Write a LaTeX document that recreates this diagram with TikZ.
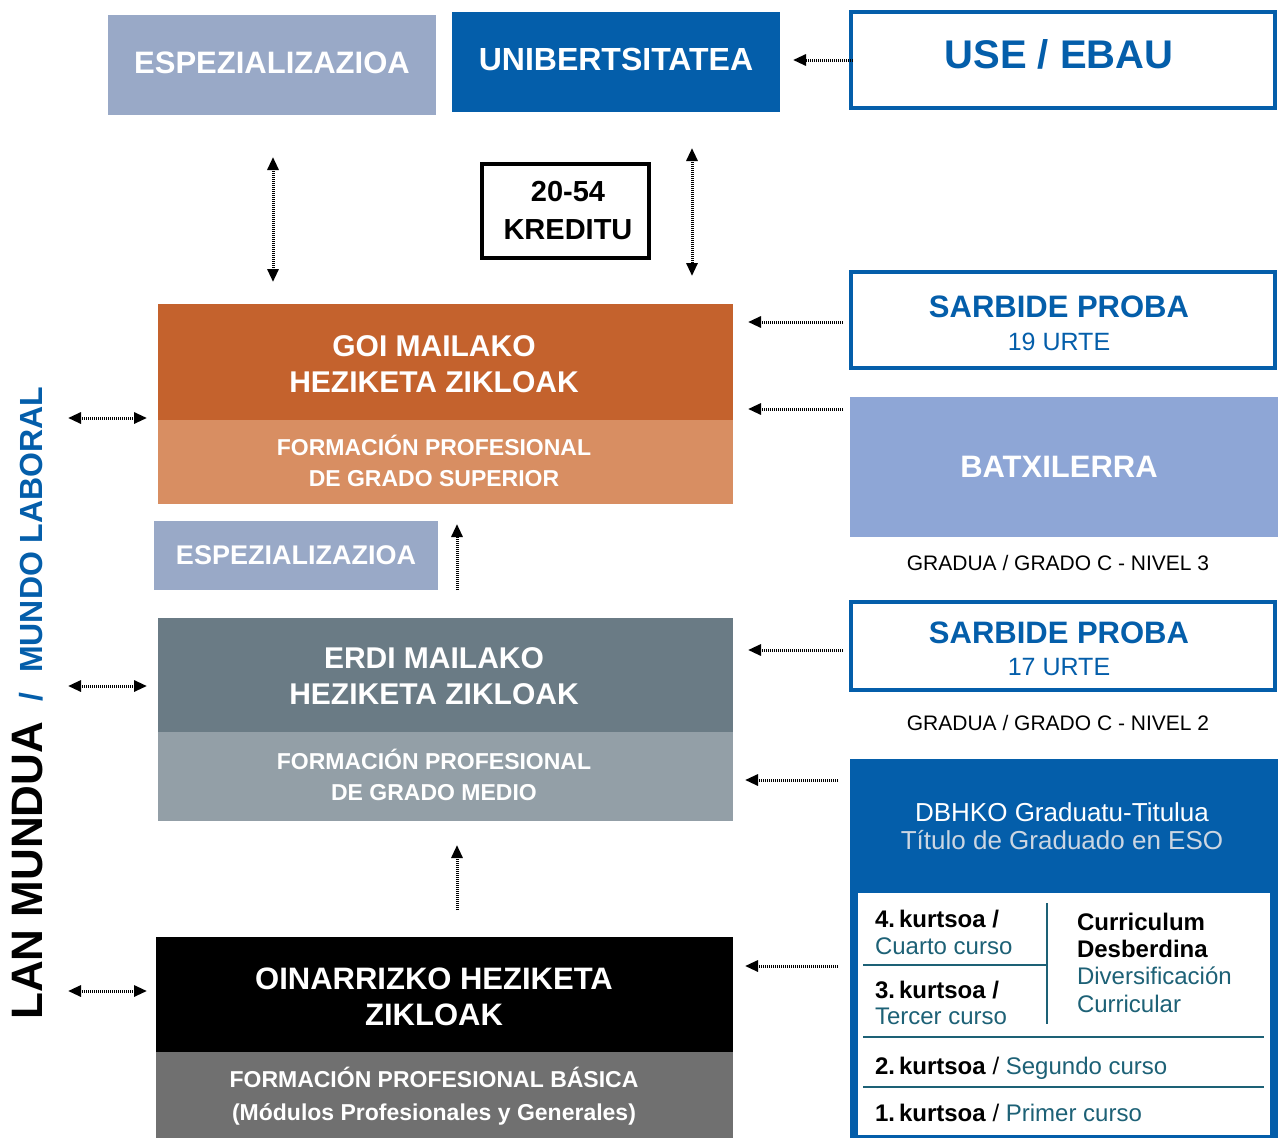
\documentclass[tikz,border=0pt]{standalone}
\usepackage{fontspec}
\setmainfont{Liberation Sans}
\usetikzlibrary{arrows.meta}
\definecolor{slate}{HTML}{99A9C7}
\definecolor{bblue}{HTML}{045EAA}
\definecolor{orng}{HTML}{C4622D}
\definecolor{lorng}{HTML}{D88E62}
\definecolor{peri}{HTML}{8EA6D6}
\definecolor{dgray}{HTML}{6A7B85}
\definecolor{lgray}{HTML}{939FA7}
\definecolor{mgray}{HTML}{707070}
\definecolor{teal}{HTML}{1D6176}
\definecolor{paleb}{HTML}{CCD6E2}
\newcommand\fsz[2]{\fontsize{#1}{#2}\selectfont}
\begin{document}
\begin{tikzpicture}[x=1pt,y=-1pt,
  blk/.style={inner sep=0, outer sep=0, draw=none},
  obox/.style={draw=bblue, line width=4pt, fill=white, inner sep=0, outer sep=0},
  cl/.style={inner sep=0, outer sep=0, align=center, text depth=0pt, text height=#1},
  tt/.style={inner sep=0, outer sep=0, anchor=base west, font=\fsz{24}{28}},
  tline/.style={draw=teal, line width=1.6pt},
  arr/.style={line width=3pt, draw=black, dash pattern=on 1pt off 1pt, -{Triangle[length=13pt,width=11pt]}},
  darr/.style={line width=3pt, draw=black, dash pattern=on 1pt off 1pt, {Triangle[length=13pt,width=11pt]}-{Triangle[length=13pt,width=11pt]}}]
\useasboundingbox (0,0) rectangle (1278,1138);

% top row
\node[blk, fill=slate, minimum width=328pt, minimum height=100pt] (esp1) at (272,65) {};
\node[cl=22.2pt, text=white, font=\fsz{31}{36}\bfseries] (esp1t) at (272,62) {ESPEZIALIZAZIOA};
\node[blk, fill=bblue, minimum width=328pt, minimum height=100pt] (uni) at (616,62) {};
\node[cl=22.9pt, text=white, font=\fsz{32}{38}\bfseries] (unit) at (616,59) {UNIBERTSITATEA};
\node[obox, minimum width=424pt, minimum height=96pt] (use) at (1063,60) {};
\node[cl=28.6pt, text=bblue, font=\fsz{40}{46}\bfseries] (uset) at (1059,54) {USE / EBAU};

\node[draw=black, line width=4pt, inner sep=0, outer sep=0, minimum width=167pt, minimum height=94pt] (kred) at (565.5,211) {};
\node[cl=58.8pt, font=\fsz{29}{38}\bfseries] (kredt) at (568,210) {20-54\\KREDITU};

% goi mailako
\node[blk, fill=orng, minimum width=575pt, minimum height=116pt] (goitop) at (445.5,362) {};
\node[blk, fill=lorng, minimum width=575pt, minimum height=84pt] (goibot) at (445.5,462) {};
\node[cl=57.5pt, text=white, font=\fsz{30}{36}\bfseries] (goit1) at (434,364) {GOI MAILAKO\\HEZIKETA ZIKLOAK};
\node[cl=47.5pt, text=white, font=\fsz{23}{31}\bfseries] (goit2) at (434,462.5) {FORMACIÓN PROFESIONAL\\DE GRADO SUPERIOR};

\node[obox, minimum width=424pt, minimum height=96pt] (sarb19) at (1063,320) {};
\node[cl=22.2pt, text=bblue, font=\fsz{31}{36}\bfseries] (sarb19a) at (1059,306) {SARBIDE PROBA};
\node[cl=17.9pt, text=bblue, font=\fsz{25}{30}] (sarb19b) at (1059,342) {19 URTE};

\node[blk, fill=peri, minimum width=428pt, minimum height=140pt] (batx) at (1064,467) {};
\node[cl=22.2pt, text=white, font=\fsz{31}{36}\bfseries] (batxt) at (1059,466) {BATXILERRA};
\node[cl=15pt, font=\fsz{21}{25}] (grad3) at (1058,563) {GRADUA / GRADO C - NIVEL 3};

\node[blk, fill=slate, minimum width=284pt, minimum height=69pt] (esp2) at (296,555.5) {};
\node[cl=19.3pt, text=white, font=\fsz{27}{32}\bfseries] (esp2t) at (296,555) {ESPEZIALIZAZIOA};

% erdi mailako
\node[blk, fill=dgray, minimum width=575pt, minimum height=114pt] (erditop) at (445.5,675) {};
\node[blk, fill=lgray, minimum width=575pt, minimum height=89pt] (erdibot) at (445.5,776.5) {};
\node[cl=57.5pt, text=white, font=\fsz{30}{36}\bfseries] (erdit1) at (434,676) {ERDI MAILAKO\\HEZIKETA ZIKLOAK};
\node[cl=47.5pt, text=white, font=\fsz{23}{31}\bfseries] (erdit2) at (434,777) {FORMACIÓN PROFESIONAL\\DE GRADO MEDIO};

\node[obox, minimum width=424pt, minimum height=88pt] (sarb17) at (1063,646) {};
\node[cl=22.2pt, text=bblue, font=\fsz{31}{36}\bfseries] (sarb17a) at (1059,632) {SARBIDE PROBA};
\node[cl=17.9pt, text=bblue, font=\fsz{25}{30}] (sarb17b) at (1059,667) {17 URTE};
\node[cl=15pt, font=\fsz{21}{25}] (grad2) at (1058,723) {GRADUA / GRADO C - NIVEL 2};

% DBHKO
\node[blk, fill=bblue, minimum width=428pt, minimum height=379pt] (dbhko) at (1064,948.5) {};
\node[cl=18.6pt, text=white, font=\fsz{26}{31}] (dbt1) at (1062,812) {DBHKO Graduatu-Titulua};
\node[cl=18.6pt, text=paleb, font=\fsz{26}{31}] (dbt2) at (1062,840) {Título de Graduado en ESO};
\node[blk, fill=white, minimum width=412pt, minimum height=242pt] (inner) at (1064,1014) {};
\draw[tline] (1047,903) -- (1047,1024);
\draw[tline] (863,965) -- (1047,965);
\draw[tline] (863,1037) -- (1264,1037);
\draw[tline] (863,1087) -- (1264,1087);
\node[tt] (k4) at (875,927) {\bfseries 4.\,kurtsoa /};
\node[tt, text=teal] (k4b) at (875,954) {Cuarto curso};
\node[tt] (k3) at (875,998) {\bfseries 3.\,kurtsoa /};
\node[tt, text=teal] (k3b) at (875,1024) {Tercer curso};
\node[tt] (cd1) at (1077,930) {\bfseries Curriculum};
\node[tt] (cd2) at (1077,957) {\bfseries Desberdina};
\node[tt, text=teal] (cd3) at (1077,984) {Diversificación};
\node[tt, text=teal] (cd4) at (1077,1012) {Curricular};
\node[tt] (k2) at (875,1074) {\textbf{2.\,kurtsoa} / \textcolor{teal}{Segundo curso}};
\node[tt] (k1) at (875,1121) {\textbf{1.\,kurtsoa} / \textcolor{teal}{Primer curso}};

% oinarrizko
\node[blk, fill=black, minimum width=577pt, minimum height=115pt] (ointop) at (444.5,994.5) {};
\node[blk, fill=mgray, minimum width=577pt, minimum height=86pt] (oinbot) at (444.5,1095) {};
\node[cl=58.2pt, text=white, font=\fsz{31}{36}\bfseries] (oint1) at (434,996) {OINARRIZKO HEZIKETA\\ZIKLOAK};
\node[cl=49.5pt, text=white, font=\fsz{23}{33}\bfseries] (oint2) at (434,1095.5) {FORMACIÓN PROFESIONAL BÁSICA\\(Módulos Profesionales y Generales)};

% vertical label
\node[rotate=90, anchor=base west, inner sep=0] (lan) at (42,1020) {\fsz{44}{44}\bfseries LAN MUNDUA\hspace{20pt}{\color{bblue}\fsz{32}{32}/\hspace{20pt}MUNDO LABORAL}};

% connectors
\draw[arr, shorten <=-2pt, shorten >=13pt] (use.west |- 0,60) -- (uni.east |- 0,60);
\draw[darr, shorten <=42pt, shorten >=22pt] (esp1.south -| 273,0) -- (goitop.north -| 273,0);
\draw[darr, shorten <=36pt, shorten >=28pt] (uni.south -| 692,0) -- (goitop.north -| 692,0);

\coordinate (l1) at (68,418);
\coordinate (l2) at (68,686);
\coordinate (l3) at (68,991);
\draw[darr, shorten >=11pt] (l1) -- (goitop.west |- l1);
\draw[darr, shorten >=11pt] (l2) -- (erditop.west |- l2);
\draw[darr, shorten >=9pt] (l3) -- (ointop.west |- l3);

\draw[arr, shorten <=8pt, shorten >=15pt] (sarb19.west |- 0,322) -- (goitop.east |- 0,322);
\draw[arr, shorten <=7pt, shorten >=15pt] (batx.west |- 0,409) -- (goitop.east |- 0,409);
\draw[arr, shorten <=8pt, shorten >=15pt] (sarb17.west |- 0,650) -- (erditop.east |- 0,650);
\draw[arr, shorten <=12pt, shorten >=12pt] (dbhko.west |- 0,780) -- (erdibot.east |- 0,780);
\draw[arr, shorten <=12pt, shorten >=12pt] (dbhko.west |- 0,966) -- (ointop.east |- 0,966);

\draw[arr, shorten <=28pt, shorten >=20pt] (erditop.north -| 457,0) -- (goibot.south -| 457,0);
\draw[arr, shorten <=27pt, shorten >=24pt] (ointop.north -| 457,0) -- (erdibot.south -| 457,0);
\end{tikzpicture}
\end{document}
